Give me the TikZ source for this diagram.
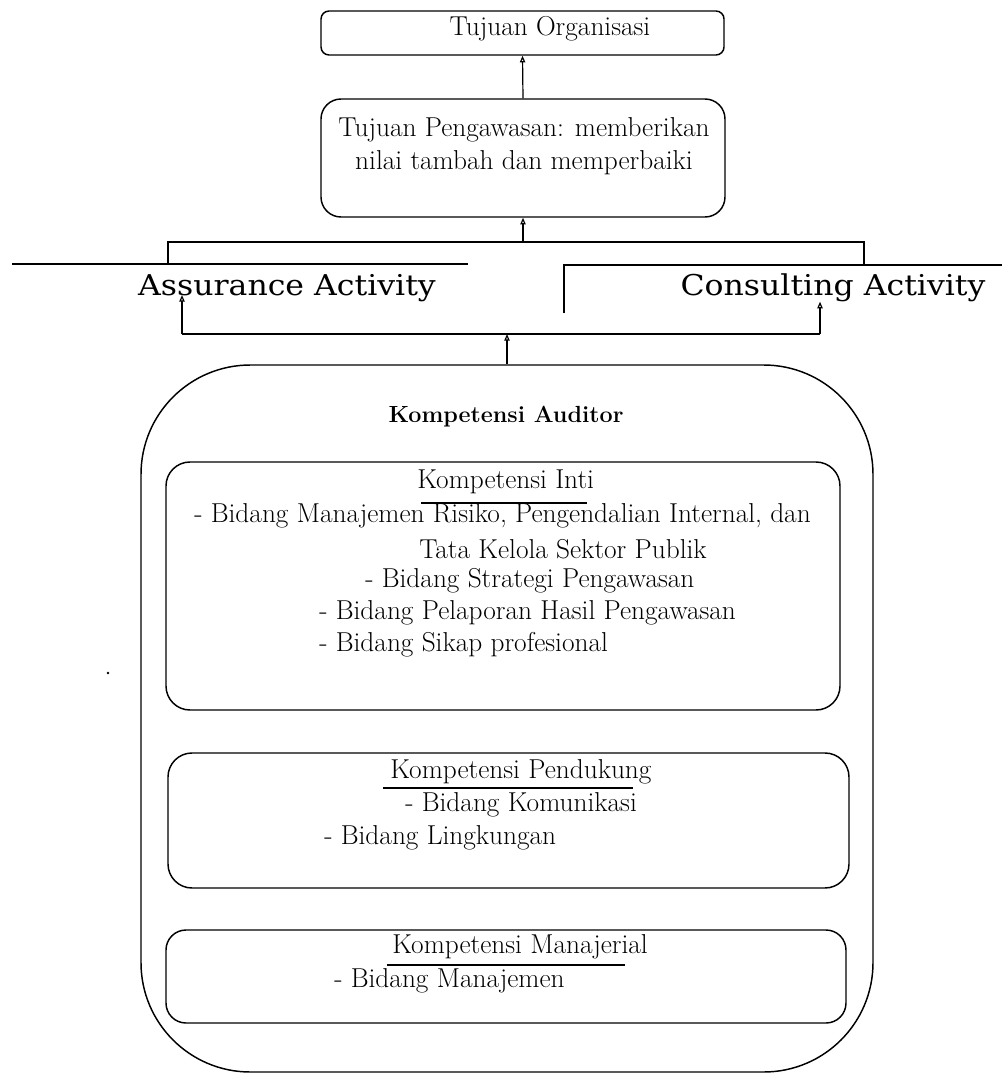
\documentclass[tikz,border=0pt]{standalone}
\usepackage{fontspec}
\newfontfamily\actfont{DejaVu Serif}
\usetikzlibrary{arrows.meta,fit}
\begin{document}
\begin{tikzpicture}[x=0.75pt,y=-0.75pt,
  box/.style={draw, line width=1.1pt, inner sep=0pt, rounded corners=#1},
  box/.default=10pt,
  txt/.style={font=\fontsize{20.5}{24}\selectfont, inner sep=0pt},
  act/.style={font=\actfont\fontsize{21.5}{25}\selectfont, inner sep=0pt},
  arr/.style={-{Triangle[open,length=5pt,width=4pt]}, line width=0.9pt},
  ln/.style={line width=1.1pt}]
\useasboundingbox (0,0) rectangle (1006,1074);

% top boxes
\node[box=6pt, fit={(321,11)(724,55)}] (org) {};
\node[txt] (orgt) at (550,29) {Tujuan Organisasi};
\node[box=15pt, fit={(321,99)(725,217)}] (goal) {};
\node[txt] (goal1) at (524,130) {Tujuan Pengawasan: memberikan};
\node[txt] (goal2) at (524,163) {nilai tambah dan memperbaiki};
\draw[arr] (goal.north) -- (org.south);

% bracket
\coordinate (bL) at (168,264);
\coordinate (bR) at (864,264);
\coordinate (bM) at (523,242);
\draw[line width=2pt] (bL) -- (bL |- bM) -- (bR |- bM) -- (bR);
\draw[arr] (bM) -- (goal.south);

\coordinate (l1) at (12,264);
\coordinate (l2) at (468,264);
\draw[ln] (l1) -- (l2);
\coordinate (r1) at (564,313);
\coordinate (r2) at (564,265);
\coordinate (r3) at (1002,265);
\draw[ln] (r1) -- (r2) -- (r3);

\node[act, anchor=base] (assur) at (287,295) {\scalebox{1.1}[1]{Assurance Activity}};
\node[act, anchor=base] (cons) at (833,295) {\scalebox{1.1}[1]{Consulting Activity}};

% outer box
\node[box=82pt, fit={(141,365)(873,1072)}] (outer) {};
\coordinate (hy) at (0,334);
\coordinate (ha) at (182,334);
\coordinate (hc) at (820,334);
\draw[ln] (ha) -- (hc);
\draw[arr] (outer.north) -- (outer.north |- hy);
\draw[arr] (ha) -- (ha |- assur.base);
\draw[arr] (hc) -- (hc |- cons.south);

\node[font=\bfseries\fontsize{17.5}{21}\selectfont, inner sep=0pt] (aud) at (506,417) {Kompetensi Auditor};

% inner boxes
\node[box=18pt, fit={(166,462)(840,710)}] (inti) {};
\node[box=18pt, fit={(168,753)(849,888)}] (pend) {};
\node[box=15pt, fit={(166,930)(846,1023)}] (manj) {};

\node[txt, anchor=west] (i0) at (417,482) {Kompetensi Inti};
\coordinate (u1a) at (421,503);
\coordinate (u1b) at (587,503);
\draw[ln] (u1a) -- (u1b);
\node[txt, anchor=west] (i1) at (194,516) {- Bidang Manajemen Risiko, Pengendalian Internal, dan};
\node[txt, anchor=west] (i2) at (419,549) {Tata Kelola Sektor Publik};
\node[txt, anchor=west] (i3) at (365,581) {- Bidang Strategi Pengawasan};
\node[txt, anchor=west] (i4) at (319,613) {- Bidang Pelaporan Hasil Pengawasan};
\node[txt, anchor=west] (i5) at (319,645) {- Bidang Sikap profesional};

\node[txt, anchor=west] (p0) at (390,772) {Kompetensi Pendukung};
\coordinate (u2a) at (383,788);
\coordinate (u2b) at (633,788);
\draw[ln] (u2a) -- (u2b);
\node[txt, anchor=west] (p1) at (405,805) {- Bidang Komunikasi};
\node[txt, anchor=west] (p2) at (324,838) {- Bidang Lingkungan};

\node[txt, anchor=west] (m0) at (392,947) {Kompetensi Manajerial};
\coordinate (u3a) at (387,965);
\coordinate (u3b) at (625,965);
\draw[ln] (u3a) -- (u3b);
\node[txt, anchor=west] (m1) at (334,981) {- Bidang Manajemen};

\fill (108,673) circle (1pt);
\end{tikzpicture}
\end{document}
